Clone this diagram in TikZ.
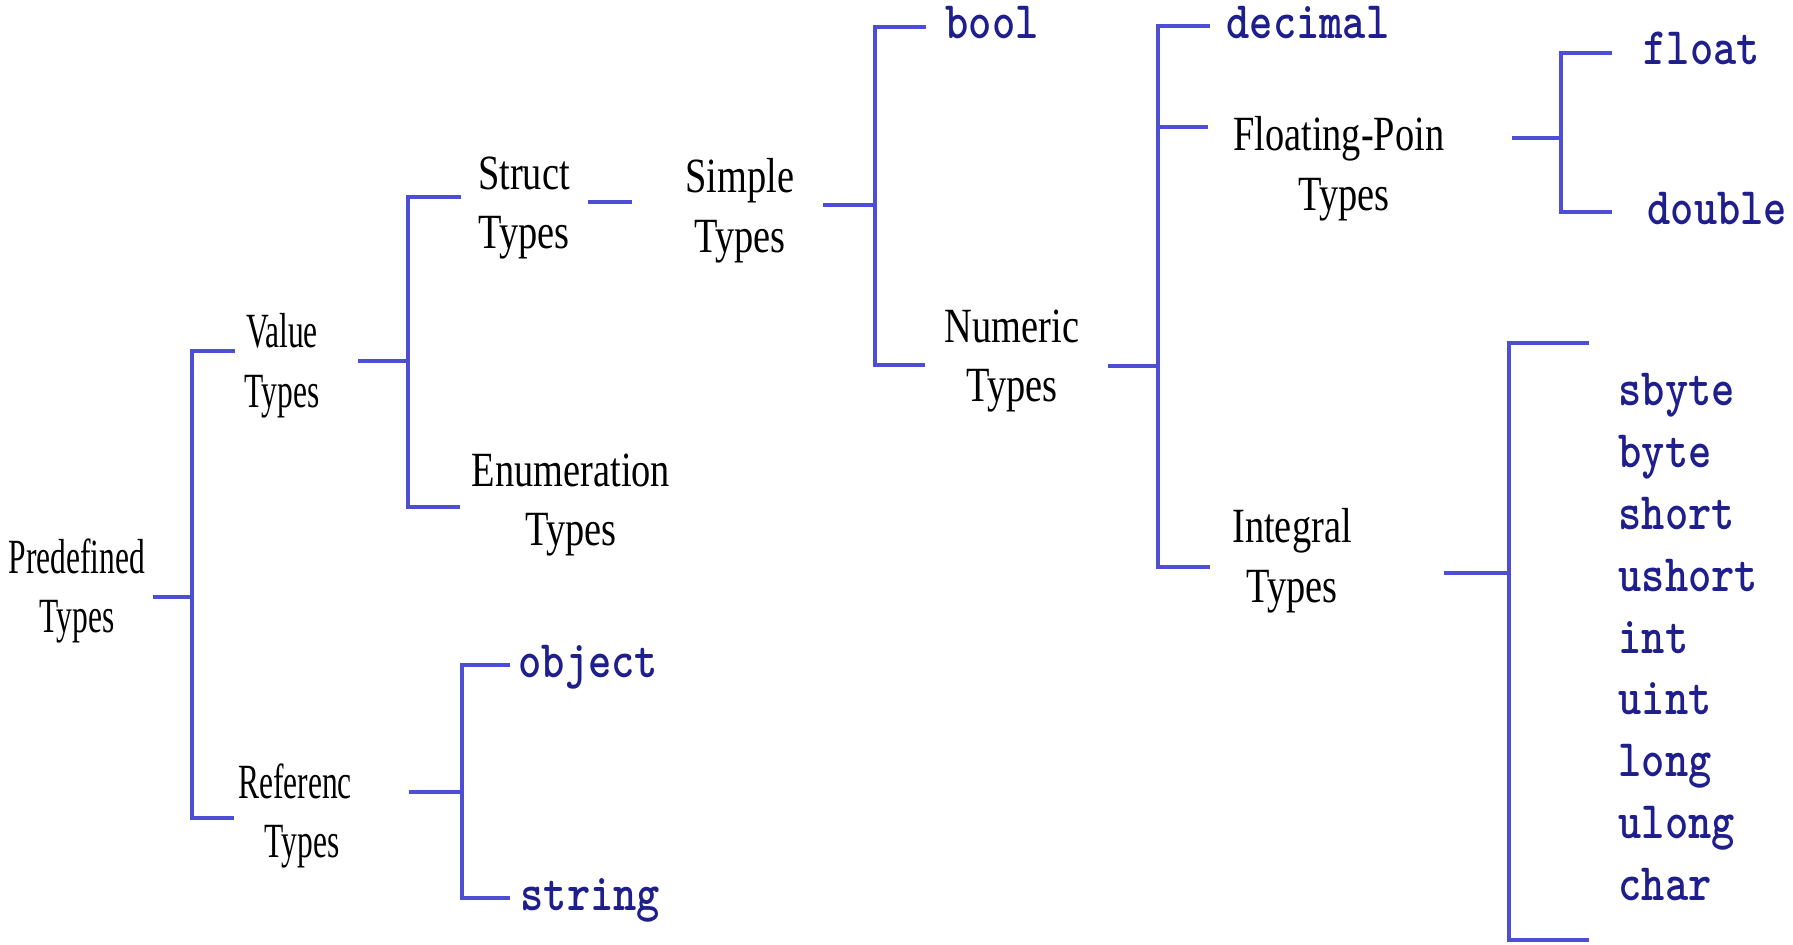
\documentclass[tikz,border=0pt]{standalone}
\usepackage{fontspec}
\newfontfamily\typefont[FakeStretch=0.78]{Liberation Serif}
\newfontfamily\narrowfont[FakeStretch=0.64]{Liberation Serif}
\newfontfamily\kwfont[FakeStretch=0.84]{Latin Modern Mono Light}
\definecolor{linkblue}{RGB}{78,78,212}
\definecolor{kwblue}{RGB}{30,30,140}
\tikzset{
  link/.style={draw=linkblue, line width=1.1pt},
  typ/.style={align=center, inner sep=0pt, font=\typefont\fontsize{14}{17}\selectfont},
  narrowtyp/.style={typ, font=\narrowfont\fontsize{14}{17}\selectfont},
  kw/.style={anchor=west, inner sep=0pt, text height=0.24cm, text depth=0pt,
    text=kwblue, font=\kwfont\bfseries\fontsize{15}{18}\selectfont},
}
\begin{document}
\begin{tikzpicture}
      \useasboundingbox (0,0) rectangle (17.93,-9.44);
      % type groups
      \node[narrowtyp] (pre) at (0.77,-5.91) {Predefined\\Types};
      \node[narrowtyp] (val) at (2.82,-3.66) {Value\\Types};
      \node[narrowtyp] (ref) at (3.02,-8.16) {Referenc\phantom{e}\\Types};
      \node[typ] (struct) at (5.24,-2.08) {Struct\\Types};
      \node[typ] (enum) at (5.71,-5.05) {Enumeration\\Types};
      \node[typ] (simple) at (7.40,-2.11) {Simple\\Types};
      \node[typ] (numeric) at (10.12,-3.61) {Numeric\\Types};
      \node[typ] (floating) at (13.44,-1.69) {Floating-Poin\phantom{t}\\Types};
      \node[typ] (integral) at (12.92,-5.61) {Integral\\Types};
      % keywords
      \node[kw] (object) at (5.18,-6.65) {object};
      \node[kw] (string) at (5.20,-8.98) {string};
      \node[kw] (bool) at (9.45,-0.27) {bool};
      \node[kw] (decimal) at (12.26,-0.26) {decimal};
      \node[kw] (float) at (16.43,-0.53) {float};
      \node[kw] (double) at (16.47,-2.12) {double};
      \node[kw] (sbyte) at (16.18,-3.93) {sbyte};
      \node[kw] (byte) at (16.18,-4.55) {byte};
      \node[kw] (short) at (16.18,-5.17) {short};
      \node[kw] (ushort) at (16.18,-5.79) {ushort};
      \node[kw] (int) at (16.18,-6.41) {int};
      \node[kw] (uint) at (16.18,-7.02) {uint};
      \node[kw] (long) at (16.18,-7.64) {long};
      \node[kw] (ulong) at (16.18,-8.26) {ulong};
      \node[kw] (char) at (16.18,-8.88) {char};
      % spines
      \coordinate (j0) at (1.92,-5.97);
      \coordinate (j1) at (4.08,-3.61);
      \coordinate (j2) at (8.75,-2.05);
      \coordinate (j3) at (11.58,-3.66);
      \coordinate (j4) at (15.61,-1.38);
      \coordinate (j5) at (15.09,-5.73);
      \coordinate (j6) at (4.62,-7.92);
      \coordinate (itop) at (15.89,-3.43);
      \coordinate (ibot) at (15.89,-9.40);
      \draw[link, shorten <=2pt] (j0 -| pre.east) -- (j0);
      \draw[link, shorten >=2.6pt] (j0) |- ([yshift=0.15cm]val.west);
      \draw[link, shorten >=1pt] (j0) |- ([yshift=-0.02cm]ref.west);
      \draw[link, shorten <=10.8pt] (j1 -| val.east) -- (j1);
      \draw[link, shorten >=4.8pt] (j1) |- ([yshift=0.11cm]struct.west);
      \draw[link, shorten >=3.3pt] (j1) |- ([yshift=-0.02cm]enum.west);
      \draw[link, shorten <=5.1pt, shorten >=15pt] ([yshift=0.06cm]struct.east) -- ([yshift=0.06cm]struct.east -| simple.west);
      \draw[link, shorten <=8pt] (j2 -| simple.east) -- (j2);
      \draw[link, shorten >=5.4pt] (j2) |- (bool.west);
      \draw[link, shorten >=5.4pt] (j2) |- ([yshift=-0.04cm]numeric.west);
      \draw[link, shorten <=8pt] (j3 -| numeric.east) -- (j3);
      \draw[link, shorten >=4.5pt] (j3) |- (decimal.west);
      \draw[link, shorten >=7pt] (j3) |- ([yshift=0.42cm]floating.west);
      \draw[link, shorten >=6.3pt] (j3) |- ([yshift=-0.06cm]integral.west);
      \draw[link, shorten <=16pt] (j4 -| floating.east) -- (j4);
      \draw[link, shorten >=8.8pt] (j4) |- (float.west);
      \draw[link, shorten >=10pt] (j4) |- (double.west);
      \draw[link, shorten <=26pt] (j5 -| integral.east) -- (j5);
      \draw[link] (itop) -| (j5) |- (ibot);
      \draw[link, shorten <=12pt] (j6 -| ref.east) -- (j6);
      \draw[link, shorten >=2.3pt] (j6) |- (object.west);
      \draw[link, shorten >=2.8pt] (j6) |- (string.west);
    \end{tikzpicture}
\end{document}
